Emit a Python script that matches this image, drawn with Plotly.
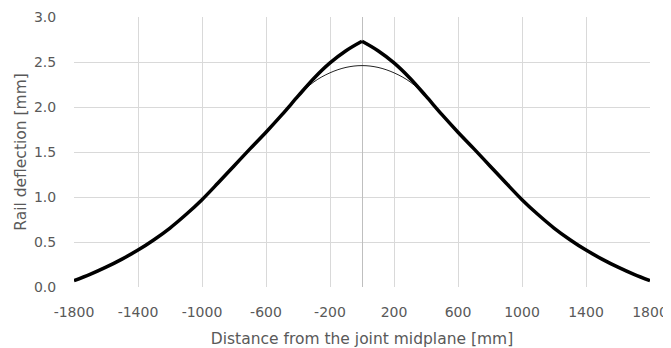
import plotly.graph_objects as go

# Distance from joint midplane [mm]
x_mm = [-1800, -1700, -1600, -1500, -1400, -1300, -1200, -1100, -1000, -900,
        -800, -700, -600, -500, -400, -300, -200, -100, 0,
        100, 200, 300, 400, 500, 600, 700, 800, 900,
        1000, 1100, 1200, 1300, 1400, 1500, 1600, 1700, 1800]

# Rail deflection with joint (thick line) [mm]
defl_joint = [0.07, 0.14, 0.22, 0.31, 0.41, 0.525, 0.655, 0.805, 0.97, 1.155,
              1.345, 1.535, 1.72, 1.915, 2.12, 2.32, 2.49, 2.625, 2.73,
              2.625, 2.49, 2.32, 2.12, 1.915, 1.72, 1.535, 1.345, 1.155,
              0.97, 0.805, 0.655, 0.525, 0.41, 0.31, 0.22, 0.14, 0.07]

# Rail deflection, continuous rail (thin line) [mm]
defl_cont = [0.07, 0.14, 0.22, 0.31, 0.41, 0.525, 0.655, 0.805, 0.97, 1.155,
             1.345, 1.535, 1.72, 1.915, 2.12, 2.28, 2.38, 2.44, 2.46,
             2.44, 2.38, 2.28, 2.12, 1.915, 1.72, 1.535, 1.345, 1.155,
             0.97, 0.805, 0.655, 0.525, 0.41, 0.31, 0.22, 0.14, 0.07]

x_ticks = [-1800, -1400, -1000, -600, -200, 200, 600, 1000, 1400, 1800]
y_ticks = [0.0, 0.5, 1.0, 1.5, 2.0, 2.5, 3.0]

FONT = "DejaVu Sans"
TXT = "#595959"
GRID = "#d9d9d9"

mid = x_mm.index(0)

fig = go.Figure()
fig.add_trace(go.Scatter(x=x_mm, y=defl_cont, mode="lines",
                         line=dict(color="#222222", width=1, shape="spline"),
                         showlegend=False))
fig.add_trace(go.Scatter(x=x_mm[:mid + 1], y=defl_joint[:mid + 1], mode="lines",
                         line=dict(color="#000000", width=3.5, shape="spline"),
                         showlegend=False))
fig.add_trace(go.Scatter(x=x_mm[mid:], y=defl_joint[mid:], mode="lines",
                         line=dict(color="#000000", width=3.5, shape="spline"),
                         showlegend=False))

fig.update_layout(
    width=663, height=340,
    margin=dict(l=66, r=21, t=9, b=61),
    paper_bgcolor="white", plot_bgcolor="white",
    font=dict(family=FONT, color=TXT, size=14),
)
fig.update_xaxes(
    range=[-1800, 1800], tickvals=x_ticks, ticktext=[str(v) for v in x_ticks],
    automargin=False,
    showgrid=True, gridcolor=GRID, gridwidth=1,
    zeroline=True, zerolinecolor="#bfbfbf", zerolinewidth=1,
    showline=False, ticks="outside", ticklen=12, tickcolor="rgba(0,0,0,0)",
    tickfont=dict(family=FONT, size=14, color=TXT),
    title=dict(text="Distance from the joint midplane [mm]",
               font=dict(family=FONT, size=15.5, color=TXT), standoff=14),
)
fig.update_yaxes(
    range=[0, 3], tickvals=y_ticks, ticktext=[f"{v:.1f}" for v in y_ticks],
    automargin=False,
    showgrid=True, gridcolor=GRID, gridwidth=1,
    zeroline=False, showline=False,
    ticks="outside", ticklen=14, tickcolor="rgba(0,0,0,0)",
    tickfont=dict(family=FONT, size=14, color=TXT),
    title=dict(text="Rail deflection [mm]",
               font=dict(family=FONT, size=15.5, color=TXT), standoff=3),
)

fig.write_html("out.html")
